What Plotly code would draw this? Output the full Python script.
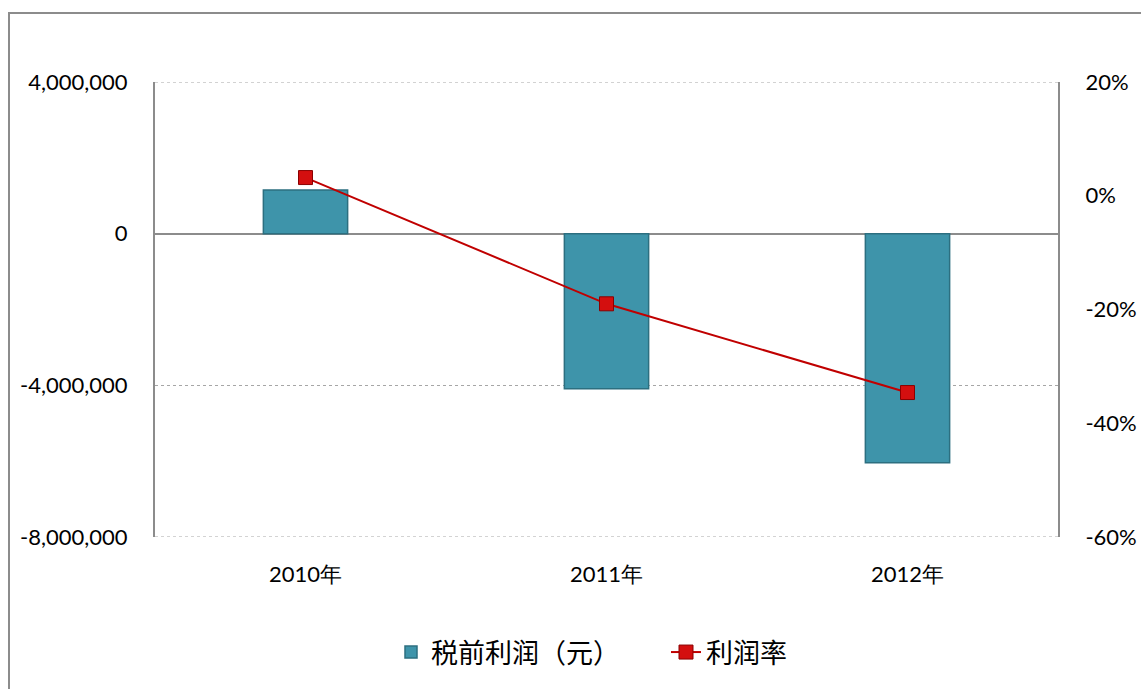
import plotly.graph_objects as go

categories = ["2010年", "2011年", "2012年"]
profit_before_tax = [1150000, -4090000, -6040000]
profit_rate = [3.2, -19.0, -34.6]
left_ticks = [-8000000, -4000000, 0, 4000000]
right_ticks = [-60, -40, -20, 0, 20]

bar_name = "税前利润（元）"
line_name = "利润率"

W, H = 1141, 689
L, R, T, B = 155, 83, 82, 152
plot_w = W - L - R
plot_h = H - T - B

fig = go.Figure()
fig.add_trace(go.Bar(
    x=categories, y=profit_before_tax, name=bar_name,
    marker=dict(color="#3E94AA", line=dict(color="#2C6F80", width=1.5)),
    width=0.28, yaxis="y",
))
fig.add_trace(go.Scatter(
    x=categories, y=profit_rate, name=line_name, mode="lines+markers",
    line=dict(color="#C00000", width=2),
    marker=dict(symbol="square", size=14, color="#D40F0F",
                line=dict(color="#8B0000", width=1)),
    yaxis="y2",
))

tick_font = dict(family="Lato, 'Open Sans', sans-serif", size=22, color="#000000")

fig.update_layout(
    width=W, height=H,
    margin=dict(l=L, r=R, t=T, b=B, autoexpand=False),
    paper_bgcolor="white", plot_bgcolor="white",
    showlegend=True,
    legend=dict(orientation="h", x=(391 - L) / plot_w, xanchor="left", y=-0.2, yanchor="top",
                font=dict(family="'Noto Sans CJK SC', sans-serif", size=27, color="#000000"),
                entrywidth=230, traceorder="normal"),
    xaxis=dict(showgrid=False, showline=False, zeroline=False,
               tickfont=tick_font, ticks="", ticklabelstandoff=22),
    yaxis=dict(range=[left_ticks[0], left_ticks[-1]], tickvals=left_ticks,
               ticktext=[f"{v:,}" for v in left_ticks],
               showgrid=True, gridcolor="#A6A6A6", griddash="dot", gridwidth=1,
               zeroline=True, zerolinecolor="#8C8C8C", zerolinewidth=1.5,
               showline=True, linecolor="#8C8C8C", linewidth=2,
               tickfont=tick_font, ticks="", ticklabelstandoff=21),
    yaxis2=dict(range=[right_ticks[0], right_ticks[-1]], tickvals=right_ticks,
                ticktext=[f"{v}%" for v in right_ticks],
                overlaying="y", side="right",
                showgrid=False, zeroline=False,
                showline=True, linecolor="#8C8C8C", linewidth=2,
                tickfont=tick_font, ticks="", ticklabelstandoff=21),
)

# dotted gridlines at the range edges (plotly omits gridlines on the plot border)
for v in (left_ticks[0], left_ticks[-1]):
    fig.add_shape(type="line", xref="x domain", yref="y", x0=0, x1=1, y0=v, y1=v,
                  line=dict(color="#A6A6A6", width=1, dash="dot"), layer="below")

# outer chart border (extends past the right and bottom edges of the image)
x0 = (9 - L) / plot_w
y1 = 1 + (T - 13) / plot_h
fig.add_shape(type="rect", xref="paper", yref="paper",
              x0=x0, x1=1 + (R + 20) / plot_w, y0=-(B + 20) / plot_h, y1=y1,
              line=dict(color="#8C8C8C", width=2), layer="below")

fig.write_html(
    "out.html",
    config={"displayModeBar": False},
    post_script="document.body.style.margin='0px';document.body.style.overflow='hidden';",
)
